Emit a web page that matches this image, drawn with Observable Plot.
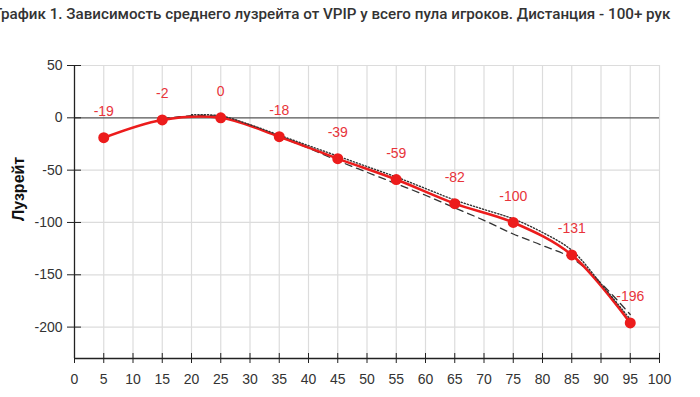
<!DOCTYPE html>
<html><head><meta charset="utf-8">
<script src="https://cdn.jsdelivr.net/npm/d3@7"></script>
<script src="https://cdn.jsdelivr.net/npm/@observablehq/plot@0.6"></script>
<style>
body{margin:0;background:#fff;overflow:hidden}
#title{font-family:Roboto,sans-serif;font-size:15.2px;font-weight:500;color:#333;height:28px;line-height:28px;white-space:nowrap;margin-left:-6px}
</style></head><body>
<div id="title">График 1. Зависимость среднего лузрейта от VPIP у всего пула игроков. Дистанция - 100+ рук</div>
<div id="chart"></div>
<script>
const vpip = [5, 15, 25, 35, 45, 55, 65, 75, 85, 95];
const loserate = [-19, -2, 0, -18, -39, -59, -82, -100, -131, -196];
const dashX = [15, 20, 25, 30, 35, 40, 45, 50, 55, 60, 65, 70, 75, 80, 85, 90, 95];
const dashY = [-1, 2, 1, -7, -18, -29, -41, -52, -63, -74, -86, -98, -111, -122, -134, -158, -188];
const dotX = [20, 25, 30, 35, 40, 45, 50, 55, 60, 65, 70, 75, 80, 85, 90, 95];
const dotY = [1.5, 0.5, -8, -18, -28, -38, -48, -58, -69, -80, -89, -98, -111, -128, -160, -194];
const xTicks = d3.range(0, 101, 5);
const yTicks = [-200, -150, -100, -50, 0, 50];

const pts = vpip.map((x, i) => ({x, y: loserate[i]}));
const dash = dashX.map((x, i) => ({x, y: dashY[i]}));
const dot = dotX.map((x, i) => ({x, y: dotY[i]}));

const red = "#ec1c1c";
const chart = Plot.plot({
  width: 700,
  height: 369,
  marginTop: 37,
  marginBottom: 39,
  marginLeft: 74,
  marginRight: 41,
  style: {fontFamily: "'Liberation Sans', Arial, sans-serif", fontSize: "14px", color: "#333"},
  x: {domain: [0, 100]},
  y: {domain: [-230, 50]},
  marks: [
    Plot.ruleX(xTicks.filter(d => d > 0), {stroke: "#dcdcdc", strokeWidth: 1.2}),
    Plot.ruleY(yTicks.filter(d => d !== 0), {stroke: "#dcdcdc", strokeWidth: 1.2}),
    Plot.ruleY([0], {stroke: "#555", strokeWidth: 1.2}),
    Plot.ruleX([0], {stroke: "#222", strokeWidth: 1.3}),
    Plot.ruleY([-230], {stroke: "#222", strokeWidth: 1.3}),
    Plot.axisX({ticks: xTicks, tickSize: 10, dy: -5, tickFormat: () => "", stroke: "#222", label: null}),
    Plot.axisX({ticks: xTicks, tickSize: 0, tickPadding: 16, tickFormat: d => String(d), fill: "#333", label: null}),
    Plot.axisY({ticks: yTicks, tickSize: 14, dx: 7, tickFormat: () => "", stroke: "#222", label: null}),
    Plot.axisY({ticks: yTicks, tickSize: 0, tickPadding: 12, tickFormat: d => String(d), fill: "#333", label: null}),
    Plot.text(["Лузрейт"], {frameAnchor: "left", rotate: -90, dx: -56, dy: 9, fontWeight: "bold", fontSize: 16, fill: "#111"}),
    Plot.line(dash, {x: "x", y: "y", stroke: "#333", strokeWidth: 1.3, strokeDasharray: "7,5", curve: "catmull-rom"}),
    Plot.line(pts, {x: "x", y: "y", stroke: red, strokeWidth: 2.6, curve: "catmull-rom"}),
    Plot.line(dot, {x: "x", y: "y", stroke: "#333", strokeWidth: 1.4, strokeDasharray: "1.2,2", curve: "catmull-rom", dy: -1.5}),
    Plot.dot(pts, {x: "x", y: "y", r: 5.5, fill: red}),
    Plot.text(pts, {x: "x", y: "y", text: d => String(d.y), dy: -26, fill: "#e8343a", fontSize: 14})
  ]
});
document.getElementById("chart").appendChild(chart);
</script>
</body></html>
